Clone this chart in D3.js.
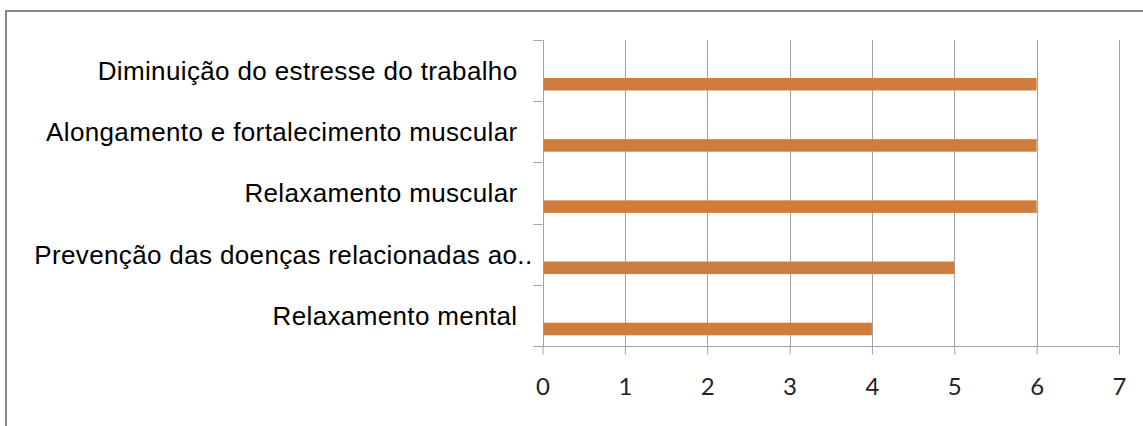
<!DOCTYPE html>
<html>
<head>
<meta charset="utf-8">
<script src="https://cdn.jsdelivr.net/npm/d3@7"></script>
<style>
  html, body { margin: 0; padding: 0; background: #fff; }
  svg { display: block; }
</style>
</head>
<body>
<svg id="chart" width="1143" height="426"></svg>
<script>
// Benefits reported, number of answers per item (top to bottom)
const categories = [
  "Diminuição do estresse do trabalho",
  "Alongamento e fortalecimento muscular",
  "Relaxamento muscular",
  "Prevenção das doenças relacionadas ao..",
  "Relaxamento mental"
];
const values = [6, 6, 6, 5, 4];
const xTicks = [0, 1, 2, 3, 4, 5, 6, 7];

const W = 1143, H = 426;
const plot = { left: 542.5, right: 1119, top: 40, bottom: 346 };
const gridColor = "#a3a3a3";
const barColor = "#cf7d3c";

const svg = d3.select("#chart");

// Outer chart frame
svg.append("rect")
  .attr("x", 6).attr("y", 11)
  .attr("width", W).attr("height", H)
  .attr("fill", "#fff")
  .attr("stroke", "#8a8a8a")
  .attr("stroke-width", 2);

const x = d3.scaleLinear().domain([0, 7]).range([plot.left, plot.right]);
const y = d3.scaleBand().domain(categories).range([plot.top, plot.bottom]).padding(0);

// Vertical gridlines
svg.append("g")
  .selectAll("line")
  .data(xTicks)
  .join("line")
  .attr("x1", d => Math.round(x(d)) + 0.5)
  .attr("x2", d => Math.round(x(d)) + 0.5)
  .attr("y1", plot.top)
  .attr("y2", plot.bottom)
  .attr("stroke", gridColor)
  .attr("stroke-width", 1);

// Bottom value axis
const xAxis = d3.axisBottom(x)
  .tickValues(xTicks)
  .tickSize(8)
  .tickPadding(24)
  .tickFormat(d3.format("d"));

const gx = svg.append("g")
  .attr("transform", `translate(0,${plot.bottom + 0.5})`)
  .call(xAxis);
gx.select(".domain").remove();
gx.selectAll(".tick line").attr("stroke", gridColor);
gx.selectAll(".tick text")
  .attr("font-family", "Lato, 'Open Sans', sans-serif")
  .attr("font-size", 24)
  .attr("fill", "#222")
  .attr("dy", "0.68em");

// Baseline of the value axis, extended left to the category tick
svg.append("line")
  .attr("x1", plot.left - 9).attr("x2", plot.right)
  .attr("y1", plot.bottom + 0.5).attr("y2", plot.bottom + 0.5)
  .attr("stroke", gridColor);

// Category axis line and band ticks
svg.append("line")
  .attr("x1", Math.round(plot.left) + 0.5).attr("x2", Math.round(plot.left) + 0.5)
  .attr("y1", plot.top).attr("y2", plot.bottom)
  .attr("stroke", gridColor);

const bandEdges = categories.map(c => y(c)).concat([plot.bottom]);
svg.append("g")
  .selectAll("line")
  .data(bandEdges)
  .join("line")
  .attr("x1", plot.left - 9)
  .attr("x2", plot.left)
  .attr("y1", d => Math.round(d) + 0.5)
  .attr("y2", d => Math.round(d) + 0.5)
  .attr("stroke", gridColor);

// Bars sit in the lower part of each category band
const bw = y.bandwidth();
svg.append("g")
  .selectAll("rect")
  .data(categories.map((c, i) => ({ c, v: values[i] })))
  .join("rect")
  .attr("x", x(0) + 1)
  .attr("y", d => y(d.c) + bw * 0.62)
  .attr("width", d => x(d.v) - x(0) - 1)
  .attr("height", bw * 0.205)
  .attr("fill", barColor);

// Category labels, right-aligned against the axis
svg.append("g")
  .selectAll("text")
  .data(categories)
  .join("text")
  .attr("x", d => d.endsWith("..") ? plot.left - 10 : plot.left - 25)
  .attr("y", d => y(d) + bw / 2)
  .attr("dy", "0.36em")
  .attr("text-anchor", "end")
  .attr("font-family", "'Liberation Sans', Arial, sans-serif")
  .attr("font-size", 26)
  .attr("letter-spacing", "0.36px")
  .attr("fill", "#000")
  .text(d => d);
</script>
</body>
</html>
